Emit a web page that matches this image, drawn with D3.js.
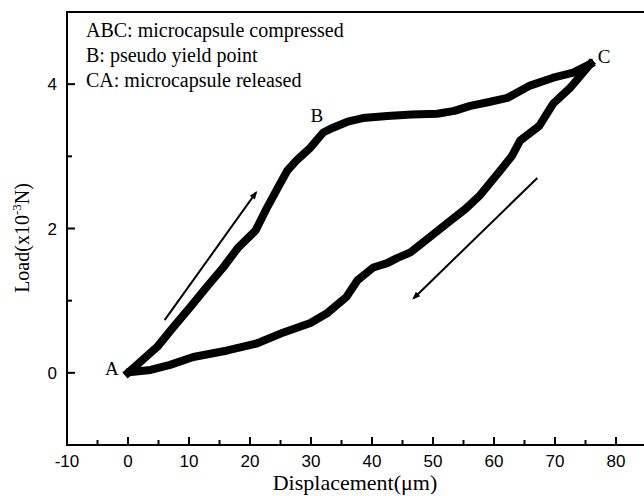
<!DOCTYPE html>
<html>
<head>
<meta charset="utf-8">
<script src="https://cdn.jsdelivr.net/npm/d3@7"></script>
<style>
  body { margin: 0; background: #fff; }
  svg { display: block; }
  .tick-label { font-family: "Liberation Sans", Arial, sans-serif; font-size: 17px; }
  .serif { font-family: "Liberation Serif", "Times New Roman", serif; }
</style>
</head>
<body>
<div id="chart"></div>
<script>
// loading branch A -> B -> C  (displacement in um, load in 1e-3 N)
const loadX = [0, 2.0, 4.8, 7.5, 10.2, 12.9, 15.6, 18.1, 20.9, 22.8, 24.6, 26.1, 27.7, 29.9, 32.0, 33.7, 36.0, 38.5, 42.5, 46.5, 50.7, 53.5, 56.1, 59.0, 62.2, 65.9, 69.7, 73.0, 75.8];
const loadY = [0, 0.15, 0.36, 0.64, 0.91, 1.19, 1.46, 1.74, 1.97, 2.29, 2.57, 2.80, 2.95, 3.12, 3.33, 3.40, 3.48, 3.53, 3.56, 3.58, 3.59, 3.63, 3.70, 3.75, 3.81, 3.98, 4.09, 4.16, 4.28];

// unloading branch C -> A
const unloadX = [75.8, 74.0, 72.5, 69.7, 67.4, 64.3, 62.9, 61.0, 57.7, 55.3, 52.3, 49.0, 46.3, 44.1, 42.5, 40.2, 37.6, 35.8, 32.7, 29.9, 25.5, 21.2, 16.3, 10.7, 6.9, 3.7, 0.4];
const unloadY = [4.28, 4.10, 3.95, 3.73, 3.42, 3.22, 3.00, 2.80, 2.46, 2.27, 2.07, 1.85, 1.67, 1.59, 1.52, 1.46, 1.28, 1.05, 0.83, 0.69, 0.56, 0.41, 0.31, 0.22, 0.11, 0.04, 0.01];

// direction arrows [x1, y1, x2, y2]
const arrowUp = [6.0, 0.73, 21.0, 2.50];
const arrowDown = [67.1, 2.70, 46.8, 1.03];

const xMajor = [-10, 0, 10, 20, 30, 40, 50, 60, 70, 80];
const xMinor = [-5, 5, 15, 25, 35, 45, 55, 65, 75, 85];
const yMajor = [0, 2, 4];
const yMinor = [1, 3];

const notes = ["ABC: microcapsule compressed", "B: pseudo yield point", "CA: microcapsule released"];
const pointLabels = [
  { t: "A", x: -1.5, y: -0.03 },
  { t: "B", x: 32.0, y: 3.47 },
  { t: "C", x: 77.0, y: 4.30 }
];

const W = 644, H = 496;
const mLeft = 67, mTop = 12, mBottom = 445;

const x = d3.scaleLinear().domain([-10, 90]).range([mLeft, mLeft + 610]);
const y = d3.scaleLinear().domain([-1, 5]).range([mBottom, mTop]);

const svg = d3.select("#chart").append("svg")
  .attr("width", W).attr("height", H);

// frame (right side runs off the picture)
svg.append("path")
  .attr("d", `M${x(90)},${mTop}H${mLeft}V${mBottom}H${x(90)}`)
  .attr("fill", "none").attr("stroke", "#000").attr("stroke-width", 2);

// x ticks, inward
const xAxis = svg.append("g").attr("transform", `translate(0,${mBottom})`);
xAxis.selectAll("line.maj").data(xMajor).enter().append("line")
  .attr("x1", d => x(d)).attr("x2", d => x(d)).attr("y1", 0).attr("y2", -8)
  .attr("stroke", "#000").attr("stroke-width", 2);
xAxis.selectAll("line.min").data(xMinor).enter().append("line")
  .attr("x1", d => x(d)).attr("x2", d => x(d)).attr("y1", 0).attr("y2", -5)
  .attr("stroke", "#000").attr("stroke-width", 2);
xAxis.selectAll("text").data(xMajor).enter().append("text")
  .attr("class", "tick-label")
  .attr("x", d => x(d)).attr("y", 22)
  .attr("text-anchor", "middle")
  .text(d => d);

// y ticks, inward
const yAxis = svg.append("g").attr("transform", `translate(${mLeft},0)`);
yAxis.selectAll("line.maj").data(yMajor).enter().append("line")
  .attr("y1", d => y(d)).attr("y2", d => y(d)).attr("x1", 0).attr("x2", 8)
  .attr("stroke", "#000").attr("stroke-width", 2);
yAxis.selectAll("line.min").data(yMinor).enter().append("line")
  .attr("y1", d => y(d)).attr("y2", d => y(d)).attr("x1", 0).attr("x2", 5)
  .attr("stroke", "#000").attr("stroke-width", 2);
yAxis.selectAll("text").data(yMajor).enter().append("text")
  .attr("class", "tick-label")
  .attr("x", -10).attr("y", d => y(d) + 6)
  .attr("text-anchor", "end")
  .text(d => d);

// axis titles
svg.append("text").attr("class", "serif")
  .attr("x", 355).attr("y", 490)
  .attr("text-anchor", "middle").attr("font-size", 22)
  .text("Displacement(\u03bcm)");

const yt = svg.append("text").attr("class", "serif")
  .attr("transform", "translate(29,238) rotate(-90)")
  .attr("text-anchor", "middle").attr("font-size", 20);
yt.append("tspan").text("Load(x10");
yt.append("tspan").attr("dy", -8).attr("font-size", 13).text("-3");
yt.append("tspan").attr("dy", 8).text("N)");

// curves
const line = d3.line().x(d => x(d[0])).y(d => y(d[1]));
const loadPts = loadX.map((v, i) => [v, loadY[i]]);
const unloadPts = unloadX.map((v, i) => [v, unloadY[i]]);

[loadPts, unloadPts].forEach(pts => {
  svg.append("path")
    .datum(pts)
    .attr("d", line)
    .attr("fill", "none")
    .attr("stroke", "#000")
    .attr("stroke-width", 8)
    .attr("stroke-linejoin", "round")
    .attr("stroke-linecap", "square");
});

// arrows
svg.append("defs").append("marker")
  .attr("id", "head").attr("viewBox", "0 0 10 10")
  .attr("refX", 8).attr("refY", 5)
  .attr("markerWidth", 5).attr("markerHeight", 4)
  .attr("orient", "auto")
  .append("path").attr("d", "M0,1L10,5L0,9Z").attr("fill", "#000");

[arrowUp, arrowDown].forEach(a => {
  svg.append("line")
    .attr("x1", x(a[0])).attr("y1", y(a[1]))
    .attr("x2", x(a[2])).attr("y2", y(a[3]))
    .attr("stroke", "#000").attr("stroke-width", 2)
    .attr("marker-end", "url(#head)");
});

// notes
svg.selectAll("text.note").data(notes).enter().append("text")
  .attr("class", "serif note")
  .attr("x", 86).attr("y", (d, i) => 37 + i * 25)
  .attr("font-size", 20)
  .text(d => d);

svg.selectAll("text.pl").data(pointLabels).enter().append("text")
  .attr("class", "serif pl")
  .attr("x", d => x(d.x)).attr("y", d => y(d.y))
  .attr("text-anchor", d => d.t === "C" ? "start" : "end")
  .attr("font-size", 19)
  .text(d => d.t);
</script>
</body>
</html>
